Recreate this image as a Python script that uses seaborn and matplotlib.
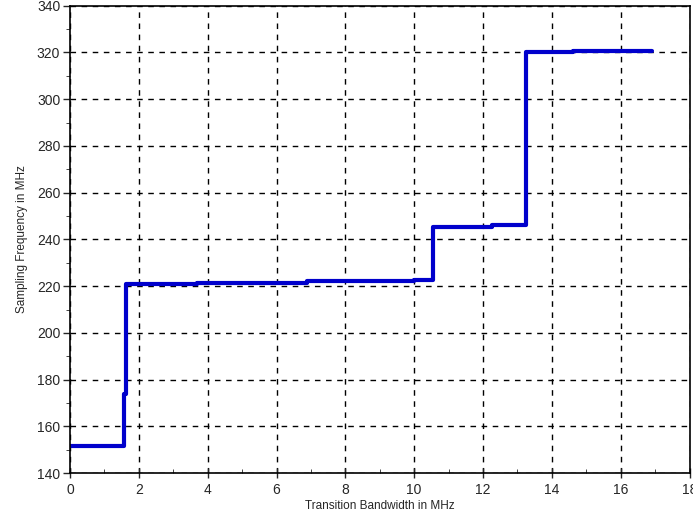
import matplotlib
matplotlib.use('Agg')
import matplotlib.pyplot as plt
import seaborn as sns
import pandas as pd
from matplotlib.ticker import MultipleLocator

# Step breakpoints (steps-post)
bandwidth = [0.0, 1.57, 1.62, 3.7, 6.9, 10.0, 10.55, 12.25, 13.25, 14.6, 16.9]
sampling_freq = [151.5, 174.0, 221.0, 221.5, 222.0, 222.5, 245.5, 246.0, 320.0, 320.5, 320.5]

x_ticks = [0, 2, 4, 6, 8, 10, 12, 14, 16, 18]
y_ticks = [140, 160, 180, 200, 220, 240, 260, 280, 300, 320, 340]

df = pd.DataFrame({'bw': bandwidth, 'fs': sampling_freq})

sns.set_style('white')
plt.rcParams['font.family'] = ['Liberation Sans', 'DejaVu Sans']

fig = plt.figure(figsize=(6.93, 5.21), dpi=100)
ax = fig.add_axes([0.101, 0.092, 0.894, 0.897])

sns.lineplot(data=df, x='bw', y='fs', ax=ax, sort=False, estimator=None,
             color='#0000cc', linewidth=3, drawstyle='steps-post')

ax.set_xlim(0, 18)
ax.set_ylim(140, 340)
ax.set_xticks(x_ticks)
ax.set_yticks(y_ticks)
ax.xaxis.set_minor_locator(MultipleLocator(1))
ax.yaxis.set_minor_locator(MultipleLocator(10))

ax.grid(True, which='major', color='black', linestyle=(0, (4, 4)), linewidth=1)
for s in ax.spines.values():
    s.set_color('black')
    s.set_linewidth(1.2)

ax.tick_params(axis='x', which='major', direction='inout', length=7, width=1,
               labelsize=10, bottom=True, pad=4)
ax.tick_params(axis='x', which='minor', direction='in', length=3, bottom=True)
ax.tick_params(axis='y', which='major', direction='out', length=5, width=1,
               labelsize=10, left=True, pad=2)
ax.tick_params(axis='y', which='minor', direction='out', length=3, left=True)

ax.set_xlabel('Transition Bandwidth in MHz', fontsize=8.5, labelpad=2)
ax.set_ylabel('Sampling Frequency in MHz', fontsize=8.5, labelpad=6)

fig.savefig('out.png', dpi=100)
